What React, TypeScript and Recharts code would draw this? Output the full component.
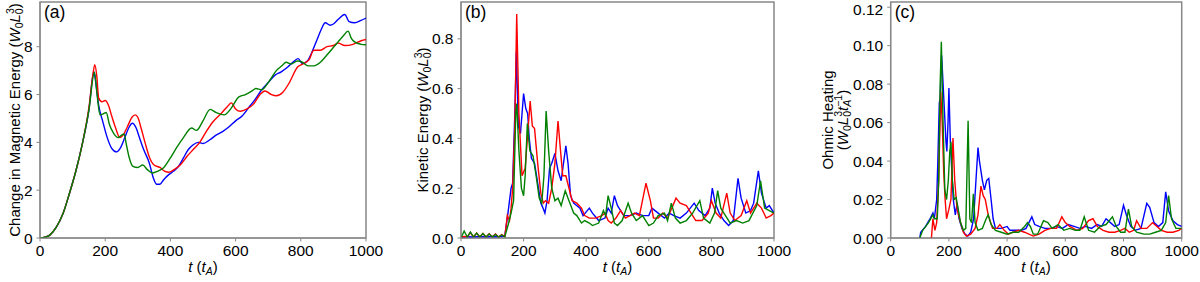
import { LineChart, Line, XAxis, YAxis, ReferenceArea } from "recharts";

type Pt = [number, number];

const FONT = '"Liberation Sans", Arial, Helvetica, sans-serif';
const BLUE = "#0000ff";
const RED = "#ff0000";
const GREEN = "#008000";
const FRAME = "#888888";

const tTicks = [0, 200, 400, 600, 800, 1000];
const magTicks = [0, 2, 4, 6, 8];
const kinTicks = [0, 0.2, 0.4, 0.6, 0.8];
const ohmTicks = [0, 0.02, 0.04, 0.06, 0.08, 0.1, 0.12];

// (a) change in magnetic energy
const magBlue: Pt[] = [
  [0, 0], [15, 0.03], [30, 0.12], [50, 0.45], [70, 1.0], [90, 1.85], [110, 2.8], [130, 3.95], [150, 5.35],
  [165, 6.95], [172, 6.4], [180, 5.55], [192, 4.9], [205, 4.25], [220, 3.75], [235, 3.6], [248, 3.8],
  [260, 4.2], [272, 4.6], [283, 4.8], [295, 4.6], [305, 4.2], [318, 3.7], [335, 3.15], [348, 2.5],
  [358, 2.25], [368, 2.25], [380, 2.45], [395, 2.65], [410, 2.8], [425, 3.0], [440, 3.35], [455, 3.7],
  [470, 3.9], [485, 4.0], [500, 3.95], [520, 4.1], [540, 4.3], [560, 4.45], [580, 4.65], [600, 4.9],
  [620, 5.1], [640, 5.45], [660, 5.8], [680, 6.2], [700, 6.5], [720, 6.8], [740, 6.95], [760, 7.15],
  [780, 7.4], [792, 7.5], [805, 7.3], [820, 7.4], [835, 7.8], [850, 8.3], [862, 8.7], [875, 9.0],
  [890, 8.9], [900, 8.95], [915, 9.15], [935, 9.35], [948, 9.05], [965, 9.0], [985, 9.1], [1000, 9.2],
];
const magRed: Pt[] = [
  [0, 0], [15, 0.03], [30, 0.12], [50, 0.45], [70, 1.0], [90, 1.85], [110, 2.8], [130, 3.95], [150, 5.45],
  [162, 6.8], [168, 7.25], [174, 6.8], [180, 5.85], [190, 5.7], [200, 5.75], [210, 5.55], [220, 5.1],
  [232, 4.6], [245, 4.2], [255, 4.3], [268, 4.65], [282, 5.05], [292, 5.15], [300, 5.05], [310, 4.6],
  [322, 4.0], [335, 3.4], [350, 3.05], [368, 2.95], [382, 2.8], [395, 2.75], [410, 2.85], [430, 3.05],
  [450, 3.4], [470, 3.7], [490, 4.0], [510, 4.45], [530, 4.85], [555, 5.2], [575, 5.5], [587, 5.65],
  [600, 5.4], [615, 5.3], [635, 5.4], [655, 5.6], [675, 6.0], [690, 6.15], [710, 6.0], [725, 5.95],
  [745, 6.1], [765, 6.5], [790, 7.15], [810, 7.3], [825, 7.45], [840, 7.85], [860, 7.85], [880, 8.0],
  [900, 8.05], [915, 8.15], [935, 8.05], [960, 8.1], [985, 8.25], [1000, 8.3],
];
const magGreen: Pt[] = [
  [0, 0], [15, 0.03], [30, 0.12], [50, 0.45], [70, 1.0], [90, 1.85], [110, 2.8], [130, 3.95], [150, 5.35],
  [167, 6.93], [175, 6.0], [184, 5.15], [195, 5.2], [203, 5.25], [213, 4.75], [225, 4.4], [240, 4.2],
  [250, 4.3], [258, 4.35], [265, 3.9], [272, 3.45], [285, 3.0], [300, 2.95], [315, 3.05], [330, 2.85],
  [345, 2.72], [362, 2.8], [380, 2.95], [400, 3.35], [420, 3.8], [440, 4.2], [465, 4.6], [480, 4.5],
  [500, 4.9], [522, 5.38], [540, 5.25], [565, 5.15], [585, 5.4], [610, 5.9], [630, 6.0], [650, 6.15],
  [662, 6.25], [680, 6.2], [700, 6.5], [725, 7.0], [742, 7.2], [755, 7.35], [770, 7.28], [790, 7.4],
  [805, 7.35], [822, 7.2], [840, 7.2], [860, 7.35], [880, 7.65], [905, 8.05], [930, 8.45], [945, 8.65],
  [955, 8.35], [965, 8.2], [985, 8.1], [1000, 8.08],
];

// (b) kinetic energy
const kinBlue: Pt[] = [
  [0, 0], [20, 0.005], [40, 0.004], [60, 0.006], [80, 0.004], [100, 0.006], [120, 0.005], [140, 0.008],
  [150, 0.1], [160, 0.2], [165, 0.22], [172, 0.5], [177, 0.75], [183, 0.45], [190, 0.42], [195, 0.5],
  [200, 0.58], [207, 0.52], [213, 0.5], [218, 0.4], [225, 0.32], [235, 0.3], [245, 0.22], [255, 0.14],
  [262, 0.12], [268, 0.1], [275, 0.15], [283, 0.28], [290, 0.3], [300, 0.34], [310, 0.27], [320, 0.23],
  [335, 0.37], [342, 0.3], [350, 0.17], [360, 0.14], [380, 0.12], [390, 0.09], [410, 0.12], [420, 0.1],
  [440, 0.07], [460, 0.08], [470, 0.12], [480, 0.1], [490, 0.17], [500, 0.13], [520, 0.09], [540, 0.09],
  [560, 0.1], [580, 0.09], [600, 0.09], [610, 0.12], [630, 0.1], [650, 0.08], [665, 0.1], [680, 0.09],
  [700, 0.08], [720, 0.1], [745, 0.14], [760, 0.11], [780, 0.09], [795, 0.12], [803, 0.2], [812, 0.14],
  [825, 0.1], [840, 0.07], [855, 0.05], [870, 0.07], [885, 0.24], [895, 0.16], [910, 0.1], [925, 0.11],
  [935, 0.14], [950, 0.27], [960, 0.18], [975, 0.12], [985, 0.13], [1000, 0.1],
];
const kinRed: Pt[] = [
  [0, 0.004], [10, 0.006], [20, 0.004], [30, 0.022], [40, 0.004], [50, 0.02], [60, 0.004], [70, 0.018],
  [80, 0.004], [90, 0.017], [100, 0.004], [110, 0.016], [120, 0.004], [130, 0.014], [140, 0.006],
  [148, 0.09], [155, 0.07], [160, 0.12], [165, 0.2], [172, 0.45], [178, 0.9], [185, 0.5], [195, 0.25],
  [205, 0.28], [212, 0.4], [221, 0.55], [228, 0.45], [235, 0.44], [245, 0.3], [255, 0.18], [263, 0.14],
  [270, 0.15], [280, 0.14], [290, 0.2], [300, 0.3], [310, 0.47], [318, 0.35], [325, 0.25], [335, 0.25],
  [345, 0.2], [355, 0.15], [370, 0.14], [385, 0.12], [395, 0.09], [410, 0.08], [430, 0.08], [450, 0.09],
  [460, 0.1], [470, 0.07], [480, 0.06], [495, 0.08], [510, 0.11], [525, 0.08], [540, 0.09], [555, 0.1],
  [570, 0.09], [591, 0.22], [605, 0.15], [615, 0.08], [630, 0.08], [645, 0.1], [660, 0.08], [687, 0.16],
  [700, 0.14], [720, 0.13], [735, 0.1], [750, 0.07], [770, 0.07], [790, 0.1], [800, 0.15], [815, 0.1],
  [830, 0.08], [849, 0.18], [860, 0.1], [875, 0.07], [895, 0.09], [913, 0.15], [925, 0.1], [945, 0.14],
  [960, 0.12], [975, 0.08], [990, 0.09], [1000, 0.1],
];
const kinGreen: Pt[] = [
  [0, 0], [10, 0.028], [20, 0.004], [30, 0.024], [40, 0.004], [50, 0.02], [60, 0.004], [70, 0.018],
  [80, 0.004], [90, 0.016], [100, 0.004], [110, 0.014], [120, 0.004], [130, 0.012], [140, 0.005],
  [150, 0.05], [160, 0.1], [168, 0.15], [175, 0.5], [178, 0.54], [185, 0.35], [193, 0.2], [200, 0.17],
  [205, 0.25], [212, 0.46], [220, 0.35], [230, 0.33], [240, 0.25], [250, 0.16], [258, 0.14], [265, 0.25],
  [272, 0.51], [280, 0.35], [290, 0.2], [300, 0.15], [310, 0.16], [320, 0.13], [333, 0.19], [345, 0.15],
  [360, 0.1], [370, 0.09], [385, 0.06], [395, 0.07], [410, 0.06], [420, 0.05], [440, 0.06], [455, 0.11],
  [462, 0.09], [470, 0.17], [480, 0.12], [490, 0.06], [500, 0.05], [515, 0.07], [534, 0.14], [545, 0.1],
  [560, 0.07], [580, 0.09], [600, 0.05], [615, 0.06], [630, 0.09], [650, 0.1], [660, 0.07], [672, 0.14],
  [685, 0.08], [700, 0.06], [720, 0.07], [740, 0.1], [763, 0.15], [775, 0.08], [795, 0.06], [810, 0.1],
  [820, 0.19], [830, 0.12], [845, 0.09], [860, 0.06], [880, 0.07], [900, 0.06], [920, 0.07], [945, 0.13],
  [957, 0.23], [970, 0.12], [985, 0.11], [1000, 0.1],
];

// (c) ohmic heating
const ohmBlue: Pt[] = [
  [100, 0], [103, 0.003], [120, 0.006], [135, 0.01], [145, 0.013], [150, 0.01], [158, 0.02], [162, 0.04],
  [167, 0.07], [170, 0.073], [175, 0.095], [180, 0.08], [185, 0.065], [190, 0.05], [193, 0.045],
  [197, 0.06], [200, 0.078], [205, 0.05], [210, 0.035], [215, 0.02], [222, 0.012], [228, 0.018],
  [235, 0.01], [245, 0.005], [255, 0.002], [265, 0.001], [275, 0.003], [285, 0.01], [293, 0.03],
  [300, 0.047], [305, 0.04], [315, 0.03], [322, 0.025], [330, 0.03], [337, 0.031], [345, 0.02],
  [352, 0.01], [360, 0.005], [380, 0.005], [400, 0.006], [410, 0.004], [430, 0.004], [450, 0.004],
  [465, 0.005], [475, 0.008], [485, 0.011], [495, 0.007], [510, 0.006], [530, 0.005], [550, 0.005],
  [570, 0.006], [590, 0.005], [610, 0.007], [630, 0.006], [650, 0.005], [670, 0.006], [690, 0.005],
  [710, 0.007], [725, 0.006], [740, 0.01], [755, 0.008], [770, 0.006], [785, 0.007], [800, 0.017],
  [810, 0.012], [825, 0.006], [840, 0.004], [860, 0.005], [880, 0.018], [890, 0.016], [905, 0.008],
  [920, 0.006], [935, 0.008], [945, 0.024], [955, 0.014], [970, 0.009], [985, 0.007], [1000, 0.006],
];
const ohmRed: Pt[] = [
  [140, 0], [145, 0.01], [152, 0.004], [158, 0.008], [165, 0.03], [172, 0.076], [177, 0.06], [182, 0.035],
  [187, 0.02], [192, 0.01], [200, 0.015], [207, 0.02], [214, 0.052], [220, 0.03], [228, 0.015],
  [240, 0.008], [250, 0.003], [260, 0.001], [275, 0.002], [290, 0.005], [300, 0.012], [310, 0.027],
  [318, 0.022], [325, 0.02], [335, 0.012], [350, 0.005], [365, 0.005], [375, 0.007], [390, 0.004],
  [405, 0.002], [420, 0.003], [440, 0.004], [460, 0.003], [475, 0.002], [490, 0.001], [510, 0.002],
  [530, 0.004], [550, 0.005], [570, 0.005], [588, 0.011], [600, 0.008], [615, 0.006], [640, 0.004],
  [660, 0.005], [680, 0.009], [695, 0.01], [710, 0.006], [730, 0.004], [750, 0.003], [770, 0.003],
  [790, 0.004], [805, 0.005], [820, 0.003], [835, 0.004], [845, 0.009], [860, 0.005], [880, 0.005],
  [900, 0.008], [915, 0.006], [930, 0.004], [950, 0.003], [970, 0.003], [990, 0.004], [1000, 0.005],
];
const ohmGreen: Pt[] = [
  [100, 0], [110, 0.004], [130, 0.008], [145, 0.012], [150, 0.01], [160, 0.01], [165, 0.03], [170, 0.08],
  [174, 0.102], [180, 0.06], [186, 0.025], [192, 0.02], [198, 0.03], [203, 0.045], [207, 0.05],
  [212, 0.03], [218, 0.02], [225, 0.021], [232, 0.015], [240, 0.008], [250, 0.004], [258, 0.005],
  [266, 0.061], [272, 0.01], [278, 0.008], [284, 0.023], [290, 0.008], [300, 0.004], [315, 0.005],
  [328, 0.01], [335, 0.012], [345, 0.007], [360, 0.004], [380, 0.003], [400, 0.002], [420, 0.003],
  [440, 0.003], [460, 0.006], [470, 0.008], [480, 0.006], [490, 0.002], [505, 0.002], [525, 0.009],
  [540, 0.008], [555, 0.005], [575, 0.007], [595, 0.004], [615, 0.005], [635, 0.004], [650, 0.004],
  [665, 0.011], [680, 0.004], [700, 0.003], [720, 0.006], [740, 0.007], [762, 0.011], [775, 0.006],
  [790, 0.003], [805, 0.003], [817, 0.015], [828, 0.006], [845, 0.003], [870, 0.002], [890, 0.002],
  [910, 0.003], [930, 0.004], [945, 0.008], [955, 0.022], [965, 0.01], [980, 0.005], [1000, 0.005],
];

const toRows = (pts: Pt[]) => pts.map(([t, v]) => ({ t, v }));

const sub = 10.5;
const labelSize = 15;
const tickSize = 15.5;

function xLabel(cx: number) {
  return () => (
    <text x={cx} y={272} textAnchor="middle" fontSize={labelSize} fontFamily={FONT} fill="#000">
      <tspan fontStyle="italic">t</tspan> (<tspan fontStyle="italic">t</tspan>
      <tspan fontSize={sub} fontStyle="italic" dy={3}>A</tspan>
      <tspan dy={-3}>)</tspan>
    </text>
  );
}

function energyUnit() {
  return [
    <tspan key="w" fontStyle="italic">W</tspan>,
    <tspan key="s0" fontSize={sub} dy={3}>0</tspan>,
    <tspan key="l" fontStyle="italic" dy={-3}>L</tspan>,
    <tspan key="s1" fontSize={sub} dy={3}>0</tspan>,
    <tspan key="p3" fontSize={sub} dx={-5.8} dy={-9.5}>3</tspan>,
  ];
}

function rotatedLabel(x: number, text: string) {
  return () => (
    <text
      x={x}
      y={120}
      transform={`rotate(-90 ${x} 120)`}
      textAnchor="middle"
      fontSize={labelSize}
      fontFamily={FONT}
      fill="#000"
    >
      {text} ({energyUnit()}
      <tspan dy={6.5}>)</tspan>
    </text>
  );
}

function ohmLabel() {
  return (
    <g fontSize={labelSize} fontFamily={FONT} fill="#000">
      <text x={33} y={120} transform="rotate(-90 33 120)" textAnchor="middle">
        Ohmic Heating
      </text>
      <text x={48} y={120} transform="rotate(-90 48 120)" textAnchor="middle">
        ({energyUnit()}
        <tspan fontStyle="italic" dy={6.5}>t</tspan>
        <tspan fontSize={sub} fontStyle="italic" dy={3}>A</tspan>
        <tspan fontSize={sub} dx={-7} dy={-9.5}>−1</tspan>
        <tspan dy={6.5}>)</tspan>
      </text>
    </g>
  );
}

type Series = { key: string; color: string; points: Pt[] };

type PanelProps = {
  left: number;
  yWidth: number;
  right: number;
  yMax: number;
  yTicks: number[];
  yFormat: (v: number) => string;
  series: Series[];
  curve: "monotone" | "linear";
  letter: string;
  plotLeft: number;
  xCenter: number;
  yLabel: () => React.ReactNode;
};

function Panel(p: PanelProps) {
  return (
    <div style={{ position: "absolute", left: p.left, top: 0, width: 400, height: 282 }}>
      <LineChart width={400} height={282} margin={{ top: 2, right: p.right, bottom: 0, left: 0 }}>
        <XAxis
          type="number"
          dataKey="t"
          domain={[0, 1000]}
          ticks={tTicks}
          allowDataOverflow
          height={44}
          tickSize={3.5}
          tickMargin={3.5}
          stroke={FRAME}
          tick={{ fill: "#000", fontSize: tickSize, fontFamily: FONT }}
          label={xLabel(p.xCenter)}
        />
        <YAxis
          type="number"
          domain={[0, p.yMax]}
          ticks={p.yTicks}
          allowDataOverflow
          tickFormatter={p.yFormat}
          width={p.yWidth}
          tickSize={3.5}
          tickMargin={4}
          stroke={FRAME}
          tick={{ fill: "#000", fontSize: tickSize, fontFamily: FONT }}
          label={p.yLabel}
        />
        <ReferenceArea x1={0} x2={1000} y1={0} y2={p.yMax} fill="none" stroke={FRAME} strokeWidth={1.5} />
        {p.series.map((s) => (
          <Line
            key={s.key}
            data={toRows(s.points)}
            dataKey="v"
            type={p.curve}
            stroke={s.color}
            strokeWidth={1.4}
            dot={false}
            activeDot={false}
            isAnimationActive={false}
          />
        ))}
      </LineChart>
      <div
        style={{
          position: "absolute",
          left: p.plotLeft + 4,
          top: 2,
          fontFamily: FONT,
          fontSize: 17.5,
          lineHeight: "20px",
          color: "#000",
        }}
      >
        {p.letter}
      </div>
    </div>
  );
}

export default function App() {
  return (
    <div style={{ position: "absolute", left: 0, top: 0, width: 1200, height: 282, background: "#fff" }}>
      <Panel
        left={0}
        yWidth={40}
        right={34}
        yMax={9.87}
        yTicks={magTicks}
        yFormat={(v) => String(v)}
        series={[
          { key: "b", color: BLUE, points: magBlue },
          { key: "r", color: RED, points: magRed },
          { key: "g", color: GREEN, points: magGreen },
        ]}
        curve="monotone"
        letter="(a)"
        plotLeft={40}
        xCenter={203}
        yLabel={rotatedLabel(20, "Change in Magnetic Energy")}
      />
      <Panel
        left={400}
        yWidth={61}
        right={26}
        yMax={0.948}
        yTicks={kinTicks}
        yFormat={(v) => v.toFixed(1)}
        series={[
          { key: "b", color: BLUE, points: kinBlue },
          { key: "r", color: RED, points: kinRed },
          { key: "g", color: GREEN, points: kinGreen },
        ]}
        curve="linear"
        letter="(b)"
        plotLeft={61}
        xCenter={217.5}
        yLabel={rotatedLabel(28, "Kinetic Energy")}
      />
      <Panel
        left={800}
        yWidth={90.7}
        right={18.3}
        yMax={0.1227}
        yTicks={ohmTicks}
        yFormat={(v) => v.toFixed(2)}
        series={[
          { key: "b", color: BLUE, points: ohmBlue },
          { key: "r", color: RED, points: ohmRed },
          { key: "g", color: GREEN, points: ohmGreen },
        ]}
        curve="linear"
        letter="(c)"
        plotLeft={90.7}
        xCenter={236}
        yLabel={ohmLabel}
      />
    </div>
  );
}
